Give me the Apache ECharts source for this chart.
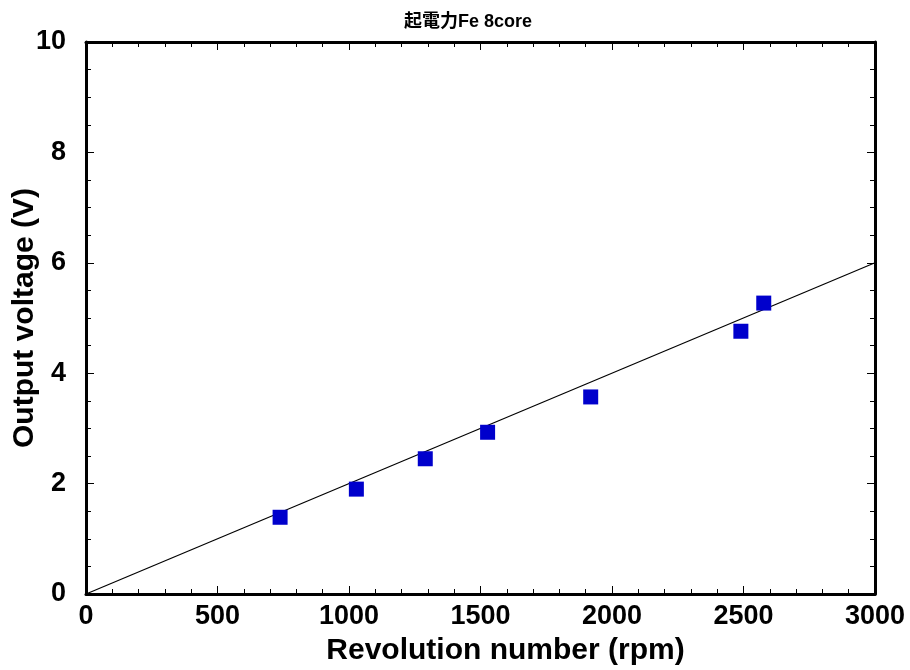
<!DOCTYPE html>
<html><head><meta charset="utf-8">
<script src="https://cdn.jsdelivr.net/npm/echarts@6/dist/echarts.min.js"></script>
<style>html,body{margin:0;padding:0;background:#fff}#c{width:910px;height:670px}</style>
</head><body><div id="c"></div>
<script>
const rpm = [738, 1028, 1290, 1527, 1919, 2490, 2577];
const voltage = [1.39, 1.90, 2.45, 2.93, 3.57, 4.76, 5.27];
const fitLine = [[0, 0], [3000, 6]];
const titleText = '起電力Fe 8core';
const xName = 'Revolution number (rpm)';
const yName = 'Output voltage (V)';

const chart = echarts.init(document.getElementById('c'));
const font = 'Liberation Sans, Arial, sans-serif';
const axisCommon = {
  axisLine: {show: true, onZero: false, lineStyle: {color: '#000', width: 3}},
  axisTick: {show: true, inside: true, length: 8, lineStyle: {color: '#000', width: 1}},
  splitLine: {show: false}
};
const mt = n => ({show: true, splitNumber: n, length: 5, lineStyle: {color: '#000', width: 1}});
const labelStyle = {fontFamily: font, fontWeight: 'bold', fontSize: 27, color: '#000', formatter: v => String(v)};
chart.setOption({
  animation: false,
  title: {text: titleText, left: 463, top: 8, textAlign: 'center',
    textStyle: {fontFamily: 'Liberation Sans, Noto Sans CJK JP, sans-serif', fontWeight: 'bold', fontSize: 18, color: '#000'}},
  grid: {left: 86, right: 35, top: 42, bottom: 76, containLabel: false, outerBoundsMode: 'none'},
  xAxis: [
    Object.assign({type: 'value', min: 0, max: 3000, interval: 500, position: 'bottom',
      name: xName, nameLocation: 'middle', nameGap: 42, nameMoveOverlap: false,
      nameTextStyle: {fontFamily: font, fontWeight: 'bold', fontSize: 30, color: '#000', padding: [0, 0, 0, 50]},
      axisLabel: Object.assign({margin: 9}, labelStyle)}, axisCommon, {minorTick: mt(5)}),
    Object.assign({type: 'value', min: 0, max: 3000, interval: 500, position: 'top',
      axisLabel: {show: false}}, axisCommon, {minorTick: mt(5)})
  ],
  yAxis: [
    Object.assign({type: 'value', min: 0, max: 10, interval: 2, position: 'left',
      name: yName, nameLocation: 'middle', nameGap: 46, nameRotate: 90, nameMoveOverlap: false,
      nameTextStyle: {fontFamily: font, fontWeight: 'bold', fontSize: 30, color: '#000'},
      axisLabel: Object.assign({margin: 20}, labelStyle)}, axisCommon, {minorTick: mt(4)}),
    Object.assign({type: 'value', min: 0, max: 10, interval: 2, position: 'right',
      axisLabel: {show: false}}, axisCommon, {minorTick: mt(4)})
  ],
  series: [
    {type: 'line', data: fitLine, symbol: 'none', lineStyle: {color: '#000', width: 1.2}, z: 2},
    {type: 'scatter', data: rpm.map((x, i) => [x, voltage[i]]), symbol: 'rect', symbolSize: 15,
      itemStyle: {color: '#0000CC', opacity: 1}, z: 3}
  ]
});
</script></body></html>
